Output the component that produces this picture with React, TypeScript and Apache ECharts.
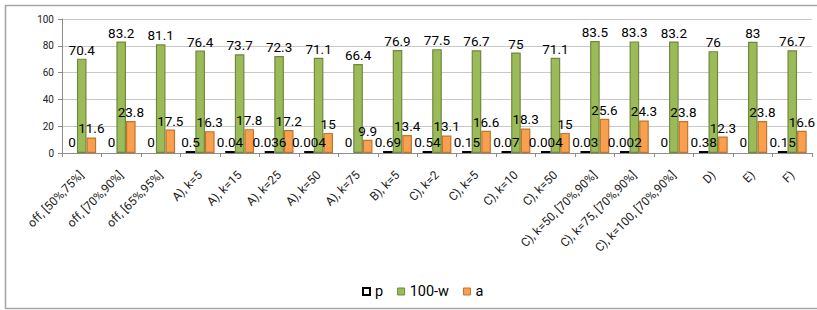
import React, { useEffect, useRef } from "react";
import * as echarts from "echarts";

const categories = [
  "off, [50%,75%]",
  "off, [70%,90%]",
  "off, [65%,95%]",
  "A), k=5",
  "A), k=15",
  "A), k=25",
  "A), k=50",
  "A), k=75",
  "B), k=5",
  "C), k=2",
  "C), k=5",
  "C), k=10",
  "C), k=50",
  "C), k=50, [70%,90%]",
  "C), k=75, [70%,90%]",
  "C), k=100, [70%,90%]",
  "D)",
  "E)",
  "F)",
];

const pValues = [0, 0, 0, 0.5, 0.04, 0.036, 0.004, 0, 0.69, 0.54, 0.15, 0.07, 0.004, 0.03, 0.002, 0, 0.38, 0, 0.15];
const wValues = [70.4, 83.2, 81.1, 76.4, 73.7, 72.3, 71.1, 66.4, 76.9, 77.5, 76.7, 75, 71.1, 83.5, 83.3, 83.2, 76, 83, 76.7];
const aValues = [11.6, 23.8, 17.5, 16.3, 17.8, 17.2, 15, 9.9, 13.4, 13.1, 16.6, 18.3, 15, 25.6, 24.3, 23.8, 12.3, 23.8, 16.6];

const yTicks = [0, 20, 40, 60, 80, 100];

const FONT = "Roboto, 'Liberation Sans', sans-serif";

export default function App() {
  const ref = useRef<HTMLDivElement>(null);
  useEffect(() => {
    if (!ref.current) return;
    const chart = echarts.init(ref.current, null, { renderer: "svg" });
    const label = {
      show: true,
      position: "top" as const,
      distance: 2,
      color: "#000",
      fontSize: 13.5,
      fontFamily: FONT,
    };
    chart.setOption({
      animation: false,
      backgroundColor: "#fff",
      textStyle: { fontFamily: FONT },
      graphic: [
        {
          type: "rect",
          shape: { x: 5.5, y: 5.5, width: 830, height: 303 },
          style: { fill: "none", stroke: "#a6a6a6", lineWidth: 1.6 },
          silent: true,
          z: 100,
        },
      ],
      grid: { left: 62, right: 5, top: 19, bottom: 157, containLabel: false },
      legend: {
        left: 357,
        top: 279,
        itemWidth: 7,
        itemHeight: 7,
        itemGap: 14,
        textStyle: { fontSize: 14.5, color: "#000", fontFamily: FONT },
        data: [
          { name: "p", icon: "rect", itemStyle: { color: "#fff", borderColor: "#000", borderWidth: 2 } },
          { name: "100-w", icon: "rect", itemStyle: { color: "#9BBB59", borderColor: "#71893F", borderWidth: 1 } },
          { name: "a", icon: "rect", itemStyle: { color: "#F9A04E", borderColor: "#C0742E", borderWidth: 1 } },
        ],
      },
      xAxis: {
        type: "category",
        data: categories,
        axisLine: { show: true, lineStyle: { color: "#8c8c8c", width: 1 } },
        axisTick: { show: true, alignWithLabel: false, length: 4, lineStyle: { color: "#8c8c8c" } },
        axisLabel: {
          rotate: 45,
          interval: 0,
          fontSize: 12,
          color: "#222",
          margin: 20,
          fontFamily: FONT,
        },
      },
      yAxis: {
        type: "value",
        min: 0,
        max: 100,
        interval: 20,
        axisLine: { show: true, lineStyle: { color: "#8c8c8c", width: 1 } },
        axisTick: { show: true, inside: false, length: 4, lineStyle: { color: "#8c8c8c" } },
        axisLabel: {
          fontSize: 10,
          color: "#222",
          margin: 8,
          fontFamily: FONT,
          formatter: (v: number) => (yTicks.includes(v) ? String(v) : ""),
        },
        splitLine: { show: true, lineStyle: { color: "#c8c8c8", width: 1 } },
      },
      series: [
        {
          name: "p",
          type: "bar",
          data: pValues,
          barGap: "0%",
          barCategoryGap: "27%",
          barMinHeight: 2,
          itemStyle: {
            color: (params: any) => (params.value > 0 ? "#000" : "rgba(0,0,0,0)"),
          },
          label,
        },
        {
          name: "100-w",
          type: "bar",
          data: wValues,
          barGap: "0%",
          barCategoryGap: "27%",
          itemStyle: { color: "#9BBB59", borderColor: "#71893F", borderWidth: 1.2 },
          label,
        },
        {
          name: "a",
          type: "bar",
          data: aValues,
          barGap: "0%",
          barCategoryGap: "27%",
          itemStyle: { color: "#F9A04E", borderColor: "#C0742E", borderWidth: 1.2 },
          label,
        },
      ],
    });
    return () => chart.dispose();
  }, []);
  return (
    <div
      ref={ref}
      style={{ position: "fixed", left: 0, top: 0, width: 817, height: 310, background: "#fff" }}
    />
  );
}
